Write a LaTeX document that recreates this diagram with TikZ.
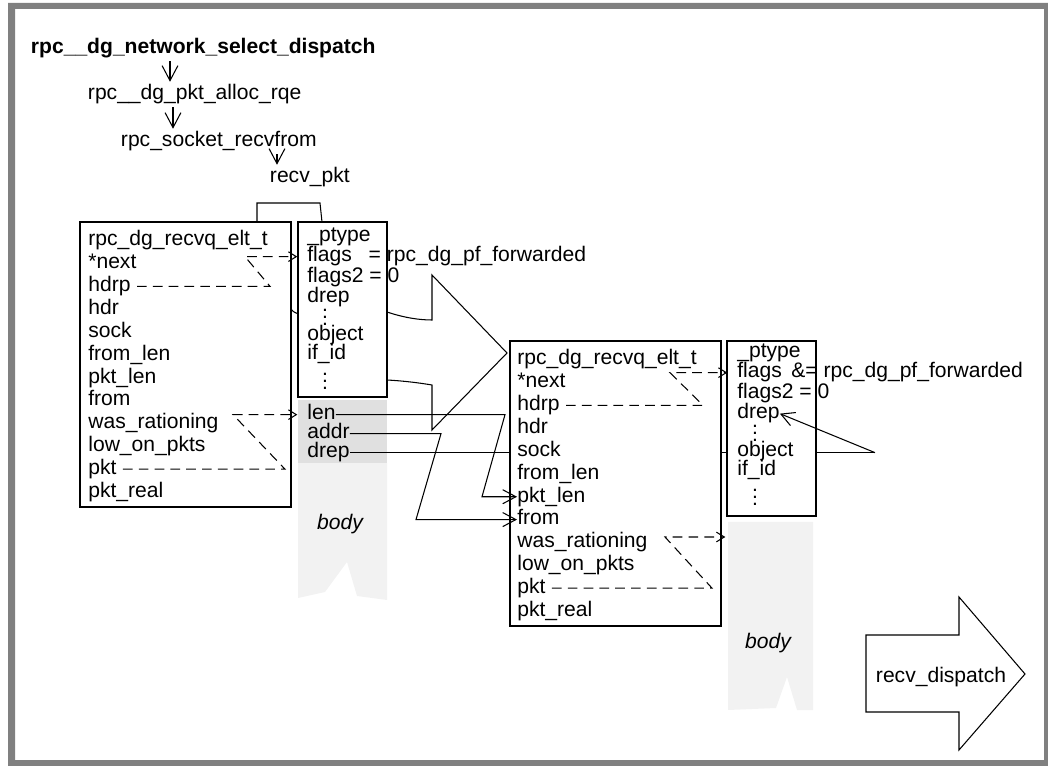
\documentclass[tikz,border=0pt]{standalone}
\usepackage{fontspec}
\setmainfont{Liberation Sans}
\usetikzlibrary{arrows.meta}
\definecolor{framegray}{RGB}{128,128,128}
\definecolor{bodydark}{RGB}{224,224,224}
\definecolor{bodylight}{RGB}{242,242,242}
\pgfdeclarelayer{back}
\pgfdeclarelayer{boxes}
\pgfsetlayers{back,boxes,main}

\begin{document}
\begin{tikzpicture}[x=0.02cm, y=-0.02cm, font=\fontsize{12}{13}\selectfont]
\tikzset{call/.style = {anchor=base west, inner sep=1.5pt}}
\tikzset{field/.style = {anchor=base west, inner sep=0pt, text height=8.6pt, text depth=2.5pt}}
\tikzset{dots/.style = {anchor=base, inner sep=0pt}}
\tikzset{record/.style = {draw, fill=white, line width=0.9pt}}
\tikzset{down/.style = {-{Straight Barb[length=8.5pt,width=9pt]}, line width=0.6pt}}
\tikzset{edge/.style = {-{Straight Barb[length=7.5pt,width=8pt]}, line width=0.6pt}}
\tikzset{link/.style = {dash pattern=on 5.5pt off 3.5pt, line width=0.6pt, -{Straight Barb[length=4.5pt,width=5.5pt]}, shorten <=3.5pt, shorten >=5.5pt}}
\useasboundingbox (0,0) rectangle (1048,766);

% call chain
\node[call, font=\fontsize{12}{13}\selectfont\bfseries] (netsel) at (28,54) {rpc\_\_dg\_network\_select\_dispatch};
\node[call] (alloc) at (85,100) {rpc\_\_dg\_pkt\_alloc\_rqe};
\node[call] (recvfrom) at (118,147) {rpc\_socket\_recvfrom};
\node[call] (recvpkt) at (267,183) {recv\_pkt};

\draw [down] (netsel.south -| 170,0) -- (alloc.north -| 170,0);
\draw [down] (alloc.south -| 173,0) -- (recvfrom.north -| 173,0);
\draw [down] (recvfrom.south -| 277,0) -- (recvpkt.north -| 277,0);

% rpc_dg_recvq_elt_t fields, old (A) and new (B)
\foreach \n/\t [count=\i from 0] in {type/rpc\_dg\_recvq\_elt\_t, next/*next, hdrp/hdrp, hdr/hdr,
    sock/sock, fromlen/from\_len, pktlen/pkt\_len, from/from, wasrat/was\_rationing,
    lowpkts/low\_on\_pkts, pkt/pkt, pktreal/pkt\_real} {
  \node[field] (A-\n) at (88,246+22.85*\i) {\t};
  \node[field] (B-\n) at (517,365+22.85*\i) {\t};
}

% packet headers
\foreach \p/\x/\y/\f in {P/307/242/{flags\hspace{0.8em}= rpc\_dg\_pf\_forwarded},
    Q/737/358/{flags\hspace{0.45em}\&= rpc\_dg\_pf\_forwarded}} {
  \node[field] (\p-ptype) at (\x,\y) {\_ptype};
  \node[field] (\p-flags) at (\x,\y+20) {\f};
  \node[field] (\p-flags2) at (\x,\y+41) {flags2 = 0};
  \node[field] (\p-drep) at (\x,\y+61) {drep};
  \node[dots] (\p-dots1) at (\x+18,\y+84) {\vdots};
  \node[field] (\p-object) at (\x,\y+99) {object};
  \node[field] (\p-ifid) at (\x,\y+118) {if\_id};
  \node[dots] (\p-dots2) at (\x+18,\y+148) {\vdots};
}

% packet body
\node[field] (body-len) at (307,420) {len};
\node[field] (body-addr) at (307,439) {addr};
\node[field] (body-drep) at (307,458) {drep};
\node[font=\fontsize{12}{13}\selectfont\itshape] (body1) at (340,524) {body};
\node[font=\fontsize{12}{13}\selectfont\itshape] (body2) at (768,643) {body};
\coordinate (Q-body) at (735,537);

\begin{pgfonlayer}{back}
\fill[framegray, even odd rule] (8,3) rectangle (1048,766) (15,9) rectangle (1044,760);
\fill[bodylight] (298,463) -- (298,598) -- (325,592) -- (347,562) -- (357,596) -- (387,600) -- (387,463) -- cycle;
\fill[bodydark] (298,400) rectangle (387,463);
\fill[bodylight] (728,522) -- (728,710) -- (776,708) -- (787,677) -- (797,710) -- (813,710) -- (813,522) -- cycle;
% big copy arrow
\draw[line width=0.6pt] (291,309) .. controls (300,325) and (360,300) .. (387,312)
  .. controls (405,318) and (420,320) .. (432,320) -- (432,275) -- (507,353) -- (432,430)
  -- (432,385) .. controls (420,383) and (405,381) .. (387,380);
\draw[line width=0.6pt] (body-drep.east) -- (875,0 |- body-drep.east) coordinate (turn);
\end{pgfonlayer}

\begin{pgfonlayer}{boxes}
\draw[record] (80,222) rectangle (291,507);
\draw[record] (298,222) rectangle (387,397);
\draw[record] (510,341) rectangle (721,626);
\draw[record] (727,341) rectangle (816,516);
\end{pgfonlayer}

\draw[line width=0.6pt] (257,222) -- (257,203) -- (320,203) -- (322,222);

% pointers
\draw [link] (A-hdrp.east) -- (270,0 |- A-hdrp.east) -- (245,0 |- P-flags.west) -- (P-flags.west);
\draw [link] (A-pkt.east) -- (285,0 |- A-pkt.east) -- (233,0 |- body-len.west) -- (body-len.west);
\draw [link] (B-hdrp.east) -- (703,0 |- B-hdrp.east) -- (670,0 |- Q-flags.west) -- (Q-flags.west);
\draw [link] (B-pkt.east) -- (712,0 |- B-pkt.east) -- (665,0 |- Q-body) -- (Q-body);

\draw [edge] (body-len.east) -- (505,0 |- body-len.east) -- (482,0 |- B-pktlen.west) -- (B-pktlen.west);
\draw [edge] (body-addr.east) -- (441,0 |- body-addr.east) -- (416,0 |- B-from.west) -- (B-from.west);
\draw [edge] (turn) -- (Q-drep.east);

% dispatch
\draw[line width=0.6pt] (866,635) -- (959,635) -- (959,597) -- (1025,674) -- (959,750) -- (959,712) -- (866,712) -- cycle;
\node[call] (recvdisp) at (873,682) {recv\_dispatch};

\end{tikzpicture}
\end{document}
